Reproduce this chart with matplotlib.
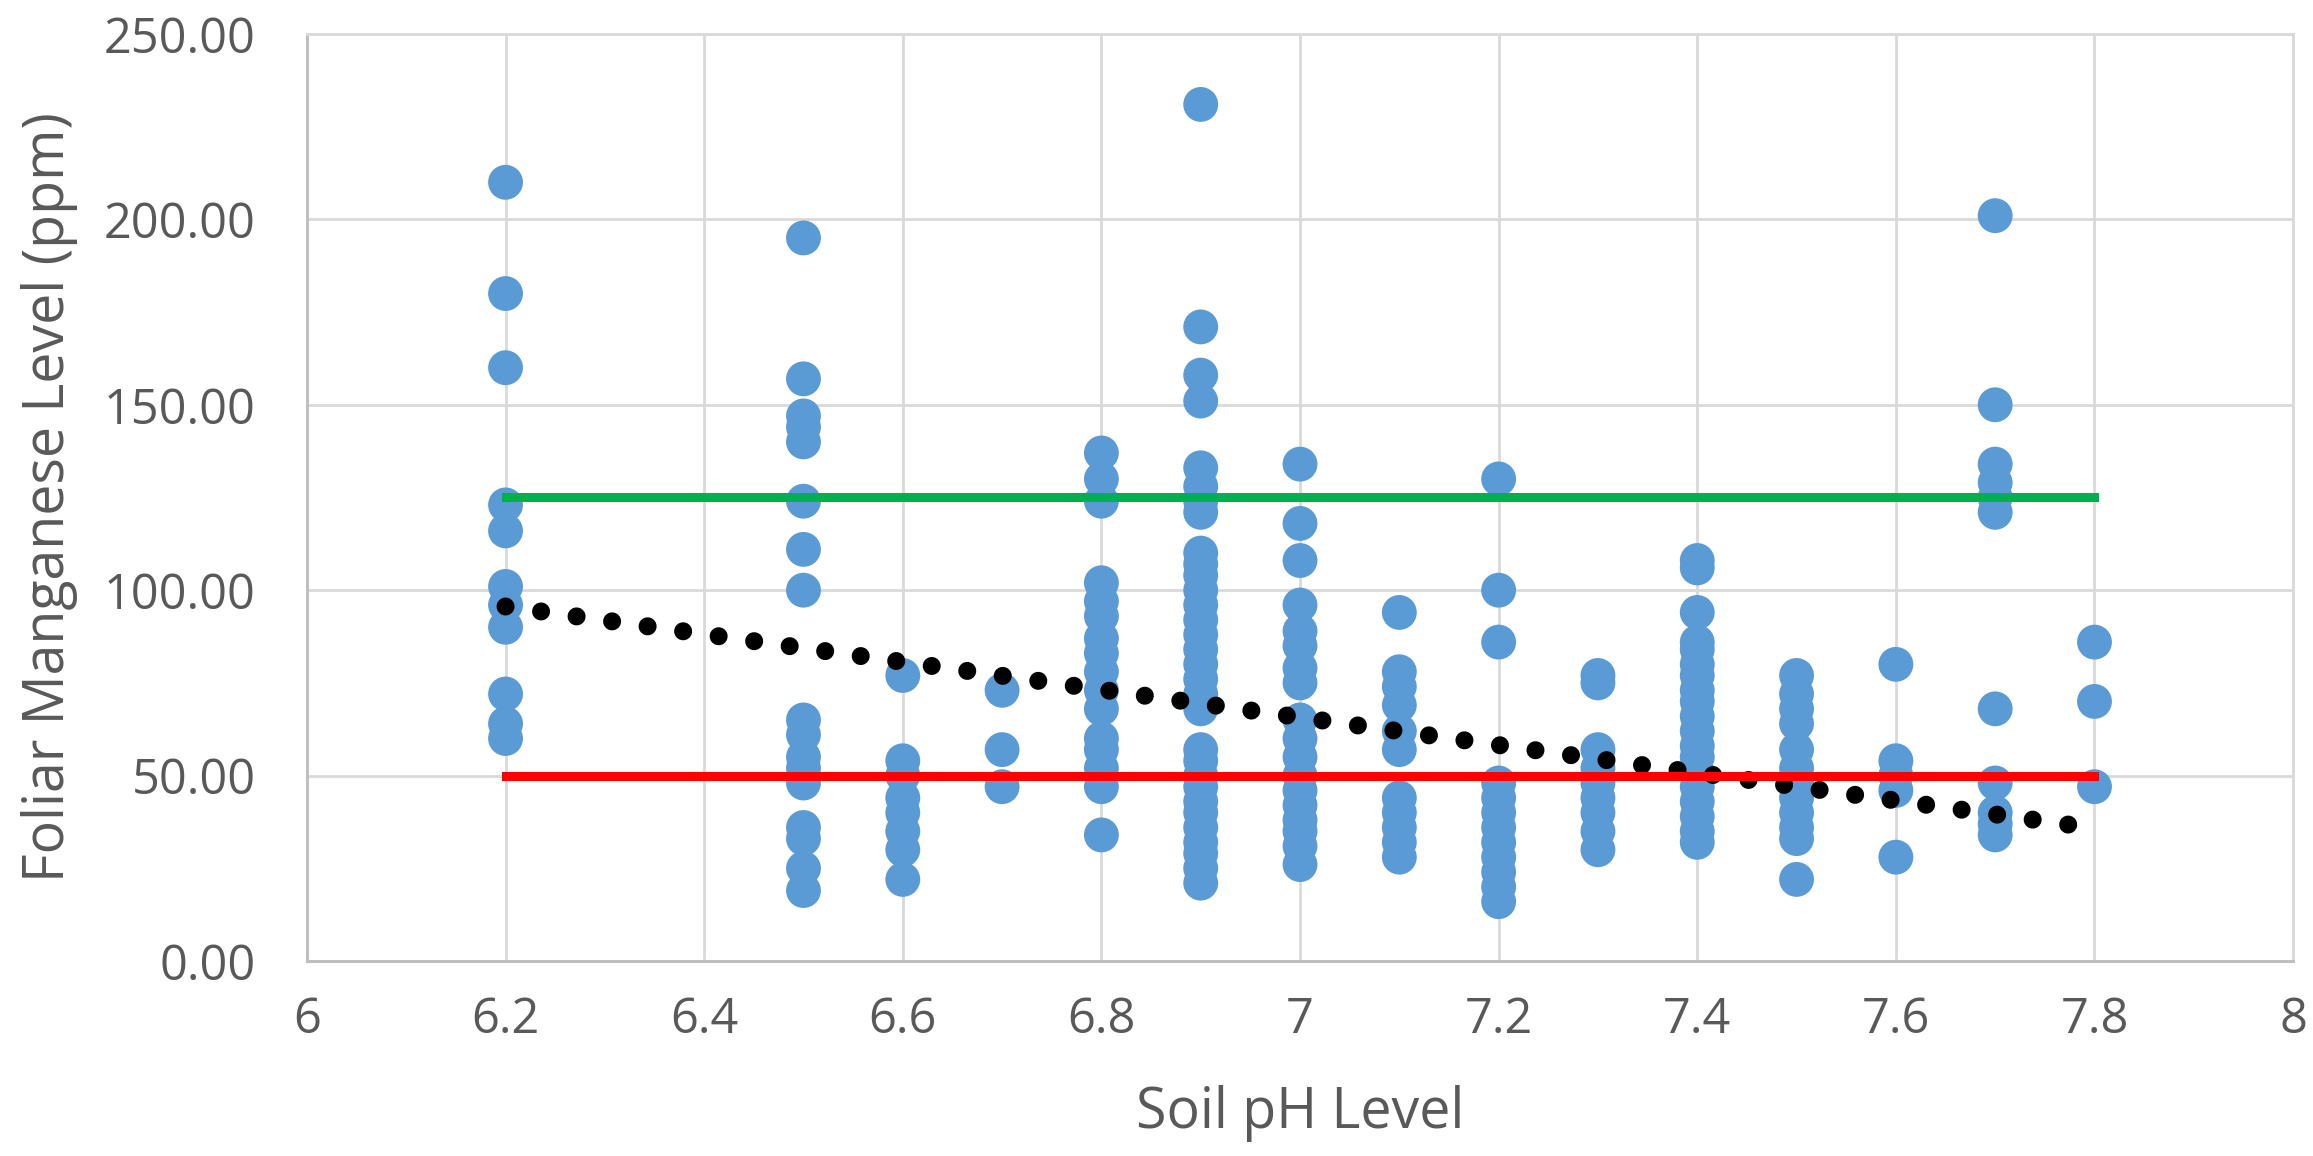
import matplotlib
matplotlib.use("Agg")
import matplotlib.pyplot as plt
from matplotlib.ticker import FormatStrFormatter, FuncFormatter

plt.rcParams['font.family'] = ['Open Sans', 'DejaVu Sans']

# ---- data ----
ph_levels = [6.2, 6.5, 6.6, 6.7, 6.8, 6.9, 7.0, 7.1, 7.2, 7.3, 7.4, 7.5, 7.6, 7.7, 7.8]

mn_62 = [210, 180, 160, 123, 116, 101, 96, 90, 72, 64, 60]
mn_65 = [195, 157, 147, 144, 140, 124, 111, 100, 65, 61, 55, 52, 48, 36, 33, 25, 19]
mn_66 = [77, 54, 50, 44, 40, 35, 30, 22]
mn_67 = [73, 57, 47]
mn_68 = [137, 130, 124, 102, 97, 93, 87, 83, 78, 73, 68, 60, 57, 52, 47, 34]
mn_69 = [231, 171, 158, 151, 133, 128, 124, 121,
         110, 107, 104, 100, 96, 92, 88, 84, 80, 76, 72, 68,
         57, 54, 50, 47, 43, 40, 36, 32, 29, 25, 21]
mn_70 = [134, 118, 108, 96, 89, 85, 79, 75, 65, 60, 55, 50, 46, 42, 38, 35, 31, 26]
mn_71 = [94, 78, 74, 69, 62, 57, 44, 40, 36, 32, 28]
mn_72 = [130, 100, 86, 48, 44, 40, 36, 32, 28, 24, 20, 16]
mn_73 = [77, 75, 57, 52, 48, 44, 40, 35, 30]
mn_74 = [108, 106, 94, 86, 84, 80, 77, 73, 70, 66, 62, 58, 55, 51, 47, 43, 39, 35, 32]
mn_75 = [77, 72, 68, 64, 57, 52, 48, 44, 40, 36, 33, 22]
mn_76 = [80, 54, 50, 46, 28]
mn_77 = [201, 150, 134, 129, 125, 121, 68, 48, 40, 37, 34]
mn_78 = [86, 70, 47]

mn_columns = [mn_62, mn_65, mn_66, mn_67, mn_68, mn_69, mn_70, mn_71,
              mn_72, mn_73, mn_74, mn_75, mn_76, mn_77, mn_78]

# reference lines and linear trend
ref_x = [6.2, 7.8]
upper_limit = [125, 125]
lower_limit = [50, 50]
trend_x = [6.2, 7.8]
trend_y = [95.6, 35.8]

x_ticks = [6.0, 6.2, 6.4, 6.6, 6.8, 7.0, 7.2, 7.4, 7.6, 7.8, 8.0]
y_ticks = [0, 50, 100, 150, 200, 250]

# ---- build points ----
xs, ys = [], []
for ph, col in zip(ph_levels, mn_columns):
    for v in col:
        xs.append(ph)
        ys.append(v)

fig = plt.figure(figsize=(23.13, 11.56), dpi=100)
ax = fig.add_axes([0.1327, 0.1687, 0.9914 - 0.1327, 0.9706 - 0.1687])

grid_c = '#D9D9D9'
axis_c = '#BFBFBF'
text_c = '#595959'

ax.scatter(xs, ys, s=630, color='#5B9BD5', edgecolors='none', zorder=3)

ax.plot(trend_x, trend_y, color='black', lw=13,
        linestyle=(0, (0.001, 1.985)), dash_capstyle='round', zorder=4)

ax.plot(ref_x, upper_limit, color='#00B050', lw=6.5, solid_capstyle='projecting', zorder=5)
ax.plot(ref_x, lower_limit, color='#FF0000', lw=6.5, solid_capstyle='projecting', zorder=5)

ax.set_xlim(6, 8)
ax.set_ylim(0, 250)
ax.set_xticks(x_ticks)
ax.set_yticks(y_ticks)
ax.xaxis.set_major_formatter(FuncFormatter(lambda v, p: ('%g' % round(v, 1))))
ax.yaxis.set_major_formatter(FormatStrFormatter('%.2f'))

ax.set_axisbelow(True)
ax.grid(True, color=grid_c, lw=2)
for s in ['top', 'right']:
    ax.spines[s].set_color(grid_c)
    ax.spines[s].set_linewidth(2)
for s in ['left', 'bottom']:
    ax.spines[s].set_color(axis_c)
    ax.spines[s].set_linewidth(2.2)

ax.tick_params(axis='both', length=0, labelsize=35, labelcolor=text_c)
ax.tick_params(axis='x', pad=25)
ax.tick_params(axis='y', pad=37)

ax.set_xlabel('Soil pH Level', fontsize=40, color=text_c)
ax.set_ylabel('Foliar Manganese Level (ppm)', fontsize=40, color=text_c)
ax.xaxis.set_label_coords(0.5, -0.134)
ax.yaxis.set_label_coords(-0.1153, 0.5)

fig.savefig('out.png', dpi=100, facecolor='white')
